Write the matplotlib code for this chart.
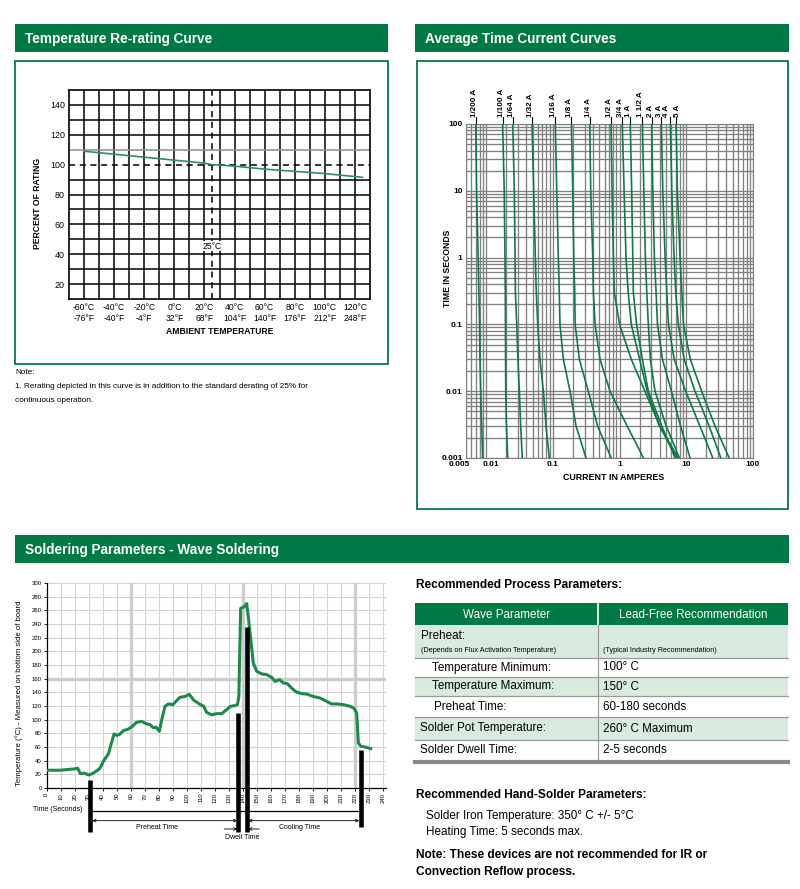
import numpy as np
import matplotlib
matplotlib.use('Agg')
import matplotlib.pyplot as plt
import matplotlib.transforms as mtransforms
from matplotlib.patches import Rectangle
from matplotlib.ticker import FixedLocator, FixedFormatter, LogLocator, NullFormatter

plt.rcParams['font.family'] = ['Liberation Sans', 'DejaVu Sans']

# ---------------- data ----------------
# Temperature re-rating curve
rerate_temp_c = [-60, -40, -20, 0, 20, 25, 40, 60, 80, 100, 125]
rerate_pct = [109, 107, 105, 103, 101, 100, 99, 97, 95.5, 94, 91.5]
temp_ticks_c = [-60, -40, -20, 0, 20, 40, 60, 80, 100, 120]
temp_ticks_f = ['-76°F', '-40°F', '-4°F', '32°F', '68°F', '104°F', '140°F', '176°F', '212°F', '248°F']
pct_ticks = [20, 40, 60, 80, 100, 120, 140]

# Average time current curves
tcc_times = [100, 10, 1, 0.3, 0.1, 0.03, 0.01, 0.003, 0.001]
tcc_ratings = ['1/200 A', '1/100 A', '1/64 A', '1/32 A', '1/16 A', '1/8 A', '1/4 A',
               '1/2 A', '3/4 A', '1 A', '1 1/2 A', '2 A', '3 A', '4 A', '5 A']
tcc_currents = [
    [0.0070, 0.0072, 0.0076, 0.0078, 0.0080, 0.0081, 0.0083, 0.0086, 0.0089],
    [0.0177, 0.0187, 0.0192, 0.0194, 0.0195, 0.0196, 0.0197, 0.0202, 0.0211],
    [0.0251, 0.0265, 0.0272, 0.0275, 0.0288, 0.0300, 0.0315, 0.0330, 0.0349],
    [0.0488, 0.0517, 0.0547, 0.0566, 0.0594, 0.0643, 0.0721, 0.0791, 0.0887],
    [0.109, 0.1145, 0.121, 0.125, 0.128, 0.144, 0.181, 0.223, 0.315],
    [0.190, 0.199, 0.206, 0.213, 0.216, 0.25, 0.34, 0.47, 0.75],
    [0.358, 0.37, 0.397, 0.405, 0.43, 0.51, 0.72, 1.3, 2.29],
    [0.746, 0.773, 0.808, 0.836, 1.0, 1.5, 2.4, 4.0, 7.6],
    [1.10, 1.17, 1.25, 1.35, 1.5, 2.0, 2.6, 4.0, 7.2],
    [1.45, 1.52, 1.58, 1.61, 1.8, 2.2, 2.7, 4.3, 6.8],
    [2.2, 2.31, 2.44, 2.56, 2.7, 2.9, 3.4, 5.0, 7.9],
    [3.04, 3.15, 3.33, 3.53, 3.7, 4.4, 6.0, 8.2, 11.4],
    [4.24, 4.45, 4.82, 5.11, 5.4, 6.6, 9.8, 16, 25],
    [5.78, 6.07, 6.57, 6.96, 7.6, 9.3, 13.5, 22, 33],
    [7.04, 7.36, 8.07, 8.57, 9.1, 11.5, 17, 27, 44],
]
tcc_xticks = [0.005, 0.01, 0.1, 1, 10, 100]
tcc_xlabels = ['0.005', '0.01', '0.1', '1', '10', '100']
tcc_yticks = [0.001, 0.01, 0.1, 1, 10, 100]
tcc_ylabels = ['0.001', '0.01', '0.1', '1', '10', '100']

# Wave soldering profile
wave_time = [0, 9.5, 20, 22, 24, 27, 30, 32, 35.6, 38, 40.4, 44, 48, 50, 52, 54.7, 58, 61, 64,
             67.7, 71, 73.7, 76, 78, 80.3, 82, 84.4, 86.7, 90, 92.7, 95, 98.6, 101.7, 104.6,
             108.8, 112, 114, 117.6, 121, 124.8, 128.3, 131, 134, 136, 137, 138.3, 140.7,
             142.6, 144.5, 147.3, 149.7, 153.3, 156.8, 160.4, 162.8, 166, 168.7, 171.6, 174.7,
             178, 181.8, 185.4, 190, 194.9, 199.6, 203.2, 207.2, 211.5, 216.3, 219, 221, 222.2,
             224, 228, 231]
wave_temp = [26, 26, 28, 29, 21, 21.5, 19, 20.5, 25, 29, 39, 50, 79, 77, 78.5, 84, 86, 90, 96,
             97.5, 94, 92.7, 88, 89, 83, 100, 119.5, 123, 122, 128, 132.7, 134, 137, 129,
             123, 119.5, 110.7, 107, 108.8, 108.8, 114.6, 119.5, 120.5, 122, 134, 263, 265,
             270, 236.6, 183, 170.7, 167, 166, 162, 156, 158.5, 153.7, 152.7, 146,
             140.5, 138, 137.5, 134, 131.7, 126.8, 123, 123, 122, 119.5, 117, 109.8, 65.9,
             61, 59.5, 57.6]
phase_times = [31, 136.6, 142.6, 224]
phase_tops = [12, 110, 235, 55]

# Process parameter table
param_names = ['Temperature Minimum:', 'Temperature Maximum:', 'Preheat Time:',
               'Solder Pot Temperature:', 'Solder Dwell Time:']
param_values = ['100° C', '150° C', '60-180 seconds', '260° C Maximum', '2-5 seconds']

# ---------------- style ----------------
GREEN = '#007a45'
LIGHT = '#d8ebde'
CURVE = '#0d7a48'

W, H = 800, 889
fig = plt.figure(figsize=(8, 8.89), dpi=100)


def px_axes(x0, y0, x1, y1, **kw):
    return fig.add_axes([x0 / W, 1 - y1 / H, (x1 - x0) / W, (y1 - y0) / H], **kw)


bg = px_axes(0, 0, 800, 889)
bg.set_xlim(0, 800)
bg.set_ylim(889, 0)
bg.axis('off')

# headers
for (x0, y0, x1, y1, title) in [(15, 24, 388, 52, 'Temperature Re-rating Curve'),
                                (415, 24, 789, 52, 'Average Time Current Curves'),
                                (15, 535, 789, 563, 'Soldering Parameters - Wave Soldering')]:
    bg.add_patch(Rectangle((x0, y0), x1 - x0, y1 - y0, color=GREEN, lw=0))
    bg.text(x0 + 10, (y0 + y1) / 2 + 1, title, color='white', fontsize=9.8,
            fontweight='bold', va='center', ha='left')

# boxes
bg.add_patch(Rectangle((15, 61), 373, 303, fill=False, ec=GREEN, lw=1.3))
bg.add_patch(Rectangle((417, 61), 371, 448, fill=False, ec=GREEN, lw=1.3))

# ---------------- re-rating chart ----------------
ax1 = px_axes(69, 90, 370, 299)
ax1.set_xlim(-70, 130)
ax1.set_ylim(10, 150)
for v in range(-60, 130, 10):
    ax1.axvline(v, color='black', lw=1.1, zorder=1)
for v in range(20, 150, 10):
    if v == 100:
        continue
    ax1.axhline(v, color='#8c8c8c' if v == 110 else 'black', lw=1.1, zorder=1)
ax1.axhline(100, color='black', lw=1.1, ls=(0, (4, 3)), zorder=2)
ax1.axvline(25, color='black', lw=1.1, ls=(0, (4, 3)), zorder=2)
ax1.plot(rerate_temp_c, rerate_pct, color='#2e8e69', lw=1.2, zorder=3)
ax1.text(25, 45.5, '25°C', ha='center', va='center', fontsize=6.2, zorder=4,
         bbox=dict(fc='white', ec='none', pad=0.4))
ax1.set_xticks(temp_ticks_c)
ax1.set_xticklabels([f'{c}°C\n{f}' for c, f in zip(temp_ticks_c, temp_ticks_f)],
                    fontsize=6.2, linespacing=1.25)
ax1.set_yticks(pct_ticks)
ax1.set_yticklabels([str(p) for p in pct_ticks], fontsize=6.4)
ax1.tick_params(length=0, pad=3)
for s in ax1.spines.values():
    s.set_linewidth(1.2)
bg.text(38, 203, 'PERCENT OF RATING', rotation=90, fontsize=6.2, fontweight='bold',
        ha='center', va='center')
bg.text(220, 332, 'AMBIENT TEMPERATURE', fontsize=6.2, fontweight='bold',
        ha='center', va='center')
bg.text(15, 372, 'Note:', fontsize=5.9, va='center')
bg.text(15, 386.5, '1. Rerating depicted in this curve is in addition to the standard derating of 25% for',
        fontsize=5.9, va='center')
bg.text(15, 401, 'continuous operation.', fontsize=5.9, va='center')

# ---------------- time-current chart ----------------
ax2 = px_axes(466, 124, 753, 458)
ax2.set_xscale('log')
ax2.set_yscale('log')
ax2.set_xlim(0.005, 100)
ax2.set_ylim(0.001, 100)
ax2.xaxis.set_major_locator(FixedLocator(tcc_xticks))
ax2.xaxis.set_major_formatter(FixedFormatter(tcc_xlabels))
ax2.yaxis.set_major_locator(FixedLocator(tcc_yticks))
ax2.yaxis.set_major_formatter(FixedFormatter(tcc_ylabels))
for axis in (ax2.xaxis, ax2.yaxis):
    axis.set_minor_locator(LogLocator(base=10, subs=np.arange(2, 10), numticks=20))
    axis.set_minor_formatter(NullFormatter())
ax2.grid(True, which='both', color='#808080', lw=0.95)
ax2.set_axisbelow(True)
ax2.tick_params(which='both', length=0, labelsize=6, pad=2.5)
for lab in ax2.get_xticklabels() + ax2.get_yticklabels():
    lab.set_fontweight('bold')
# spread the two crowded leftmost current labels like the reference
xlabs = ax2.get_xticklabels()
xlabs[0].set_transform(xlabs[0].get_transform() +
                       mtransforms.ScaledTranslation(-7 / 100, 0, fig.dpi_scale_trans))
xlabs[1].set_transform(xlabs[1].get_transform() +
                       mtransforms.ScaledTranslation(5 / 100, 0, fig.dpi_scale_trans))
for s in ax2.spines.values():
    s.set_color('#808080')
for cur in tcc_currents:
    ax2.plot(cur, tcc_times, color=CURVE, lw=1.2, zorder=3)
label_nudge = [-1.5] * 13 + [-3.5, 1.5]
xt = ax2.get_xaxis_transform()
for name, cur, nd in zip(tcc_ratings, tcc_currents, label_nudge):
    ax2.plot([cur[0], cur[0]], [1.0, 1.022], color='black', lw=0.8, transform=xt, clip_on=False)
    ax2.annotate(name, xy=(cur[0], 1.022), xycoords=xt, xytext=(nd * 0.72, 0),
                 textcoords='offset points', rotation=90, ha='center', va='bottom',
                 fontsize=5.8, fontweight='bold', annotation_clip=False)
bg.text(447, 268, 'TIME IN SECONDS', rotation=90, fontsize=6.2, fontweight='bold',
        ha='center', va='center')
bg.text(614, 478, 'CURRENT IN AMPERES', fontsize=6.4, fontweight='bold',
        ha='center', va='center')

# ---------------- wave soldering chart ----------------
ax3 = px_axes(46.7, 583, 385.7, 788)
ax3.set_xlim(0, 241.7)
ax3.set_ylim(0, 300)
for t in range(10, 250, 10):
    ax3.axvline(t, color='#d3d3d3', lw=0.8, zorder=0)
for T in range(20, 320, 20):
    ax3.axhline(T, color='#d3d3d3', lw=0.8, zorder=0)
for t in (60, 140, 220):
    ax3.axvline(t, color='#cdcdcd', lw=2.4, zorder=0)
ax3.axhline(160, color='#cdcdcd', lw=2.4, zorder=0)
ax3.plot(wave_time, wave_temp, color='#1b8a4c', lw=2.2, solid_joinstyle='round', zorder=3)
for s in ('top', 'right'):
    ax3.spines[s].set_visible(False)
for s in ('left', 'bottom'):
    ax3.spines[s].set_linewidth(0.9)
ax3.set_xticks(range(0, 250, 10))
ax3.set_xticklabels([str(t) for t in range(0, 250, 10)], rotation=90, fontsize=4.3)
ax3.set_yticks(range(0, 320, 20))
ax3.set_yticklabels([str(T) for T in range(0, 320, 20)], fontsize=4.3)
ax3.tick_params(length=2, width=0.6, pad=1.5)

bar_bottoms = [-65, -65, -65, -56.5]
for t, top, bot in zip(phase_times, phase_tops, bar_bottoms):
    ax3.plot([t, t], [top, bot], color='black', lw=3.3, solid_capstyle='butt',
             clip_on=False, zorder=4)
ax3.plot([32, 223.5], [-33, -33], color='black', lw=0.9, clip_on=False)
arrow = dict(arrowstyle='<->', lw=0.6, color='black', shrinkA=0, shrinkB=0,
             mutation_scale=5)
ax3.annotate('', xy=(135.9, -47.8), xytext=(32.5, -47.8), arrowprops=arrow,
             annotation_clip=False)
ax3.annotate('', xy=(222.8, -47.8), xytext=(143.7, -47.8), arrowprops=arrow,
             annotation_clip=False)
one = dict(arrowstyle='->', lw=0.6, color='black', shrinkA=0, shrinkB=0, mutation_scale=5)
ax3.annotate('', xy=(135.9, -60), xytext=(126.5, -60), arrowprops=one, annotation_clip=False)
ax3.annotate('', xy=(143.7, -60), xytext=(151.5, -60), arrowprops=one, annotation_clip=False)
ax3.text(-9.8, -32, 'Time (Seconds)', fontsize=5, ha='left', va='center', clip_on=False)
ax3.text(78.6, -58.5, 'Preheat Time', fontsize=5, ha='center', va='center', clip_on=False)
ax3.text(180.6, -58.5, 'Cooling Time', fontsize=5, ha='center', va='center', clip_on=False)
ax3.text(139.3, -73, 'Dwell Time', fontsize=5, ha='center', va='center', clip_on=False)
bg.text(19, 693, 'Temperature (°C) - Measured on bottom side of board', rotation=90,
        fontsize=5.6, ha='center', va='center')

# ---------------- table ----------------
bg.text(416, 585, 'Recommended Process Parameters:', fontsize=8.6, fontweight='bold',
        va='center')
tx0, tx1, tcol = 415, 788, 598
bg.add_patch(Rectangle((tx0, 603), tx1 - tx0, 22, color=GREEN, lw=0))
bg.plot([tcol, tcol], [603, 625], color='white', lw=1.2)
bg.text((tx0 + tcol) / 2, 614.5, 'Wave Parameter', color='white', fontsize=8.4,
        ha='center', va='center')
bg.text((tcol + tx1) / 2, 614.5, 'Lead-Free Recommendation', color='white', fontsize=8.4,
        ha='center', va='center')
row_bounds = [625, 658, 677, 696, 717, 740, 760]
row_fill = [LIGHT, 'white', LIGHT, 'white', LIGHT, 'white']
for i, fc in enumerate(row_fill):
    bg.add_patch(Rectangle((tx0, row_bounds[i]), tx1 - tx0,
                           row_bounds[i + 1] - row_bounds[i], color=fc, lw=0))
for yb in row_bounds[1:-1]:
    bg.plot([tx0, tx1], [yb, yb], color='#9a9a9a', lw=0.9)
bg.plot([tcol, tcol], [625, 760], color='#9a9a9a', lw=0.9)
bg.plot([tx0, tx1], [761.5, 761.5], color='#8a8a8a', lw=3)
bg.text(421, 636, 'Preheat:', fontsize=8.4, va='center')
bg.text(421, 651, '(Depends on Flux Activation Temperature)', fontsize=5.2, va='center')
bg.text(603, 651, '(Typical Industry Recommendation)', fontsize=5.2, va='center')
name_x = [432, 432, 434, 420, 420]
for i, (nm, val) in enumerate(zip(param_names, param_values)):
    yc = (row_bounds[i + 1] + row_bounds[i + 2]) / 2
    bg.text(name_x[i], yc, nm, fontsize=8.4, va='center')
    bg.text(603, yc, val, fontsize=8.4, va='center')

bg.text(416, 795, 'Recommended Hand-Solder Parameters:', fontsize=8.6, fontweight='bold',
        va='center')
bg.text(426, 816.5, 'Solder Iron Temperature: 350° C +/- 5°C', fontsize=8.4, va='center')
bg.text(426, 832.5, 'Heating Time: 5 seconds max.', fontsize=8.4, va='center')
bg.text(416, 854.5, 'Note: These devices are not recommended for IR or', fontsize=8.6,
        fontweight='bold', va='center')
bg.text(416, 872, 'Convection Reflow process.', fontsize=8.6, fontweight='bold', va='center')

fig.savefig('out.png', dpi=100)
